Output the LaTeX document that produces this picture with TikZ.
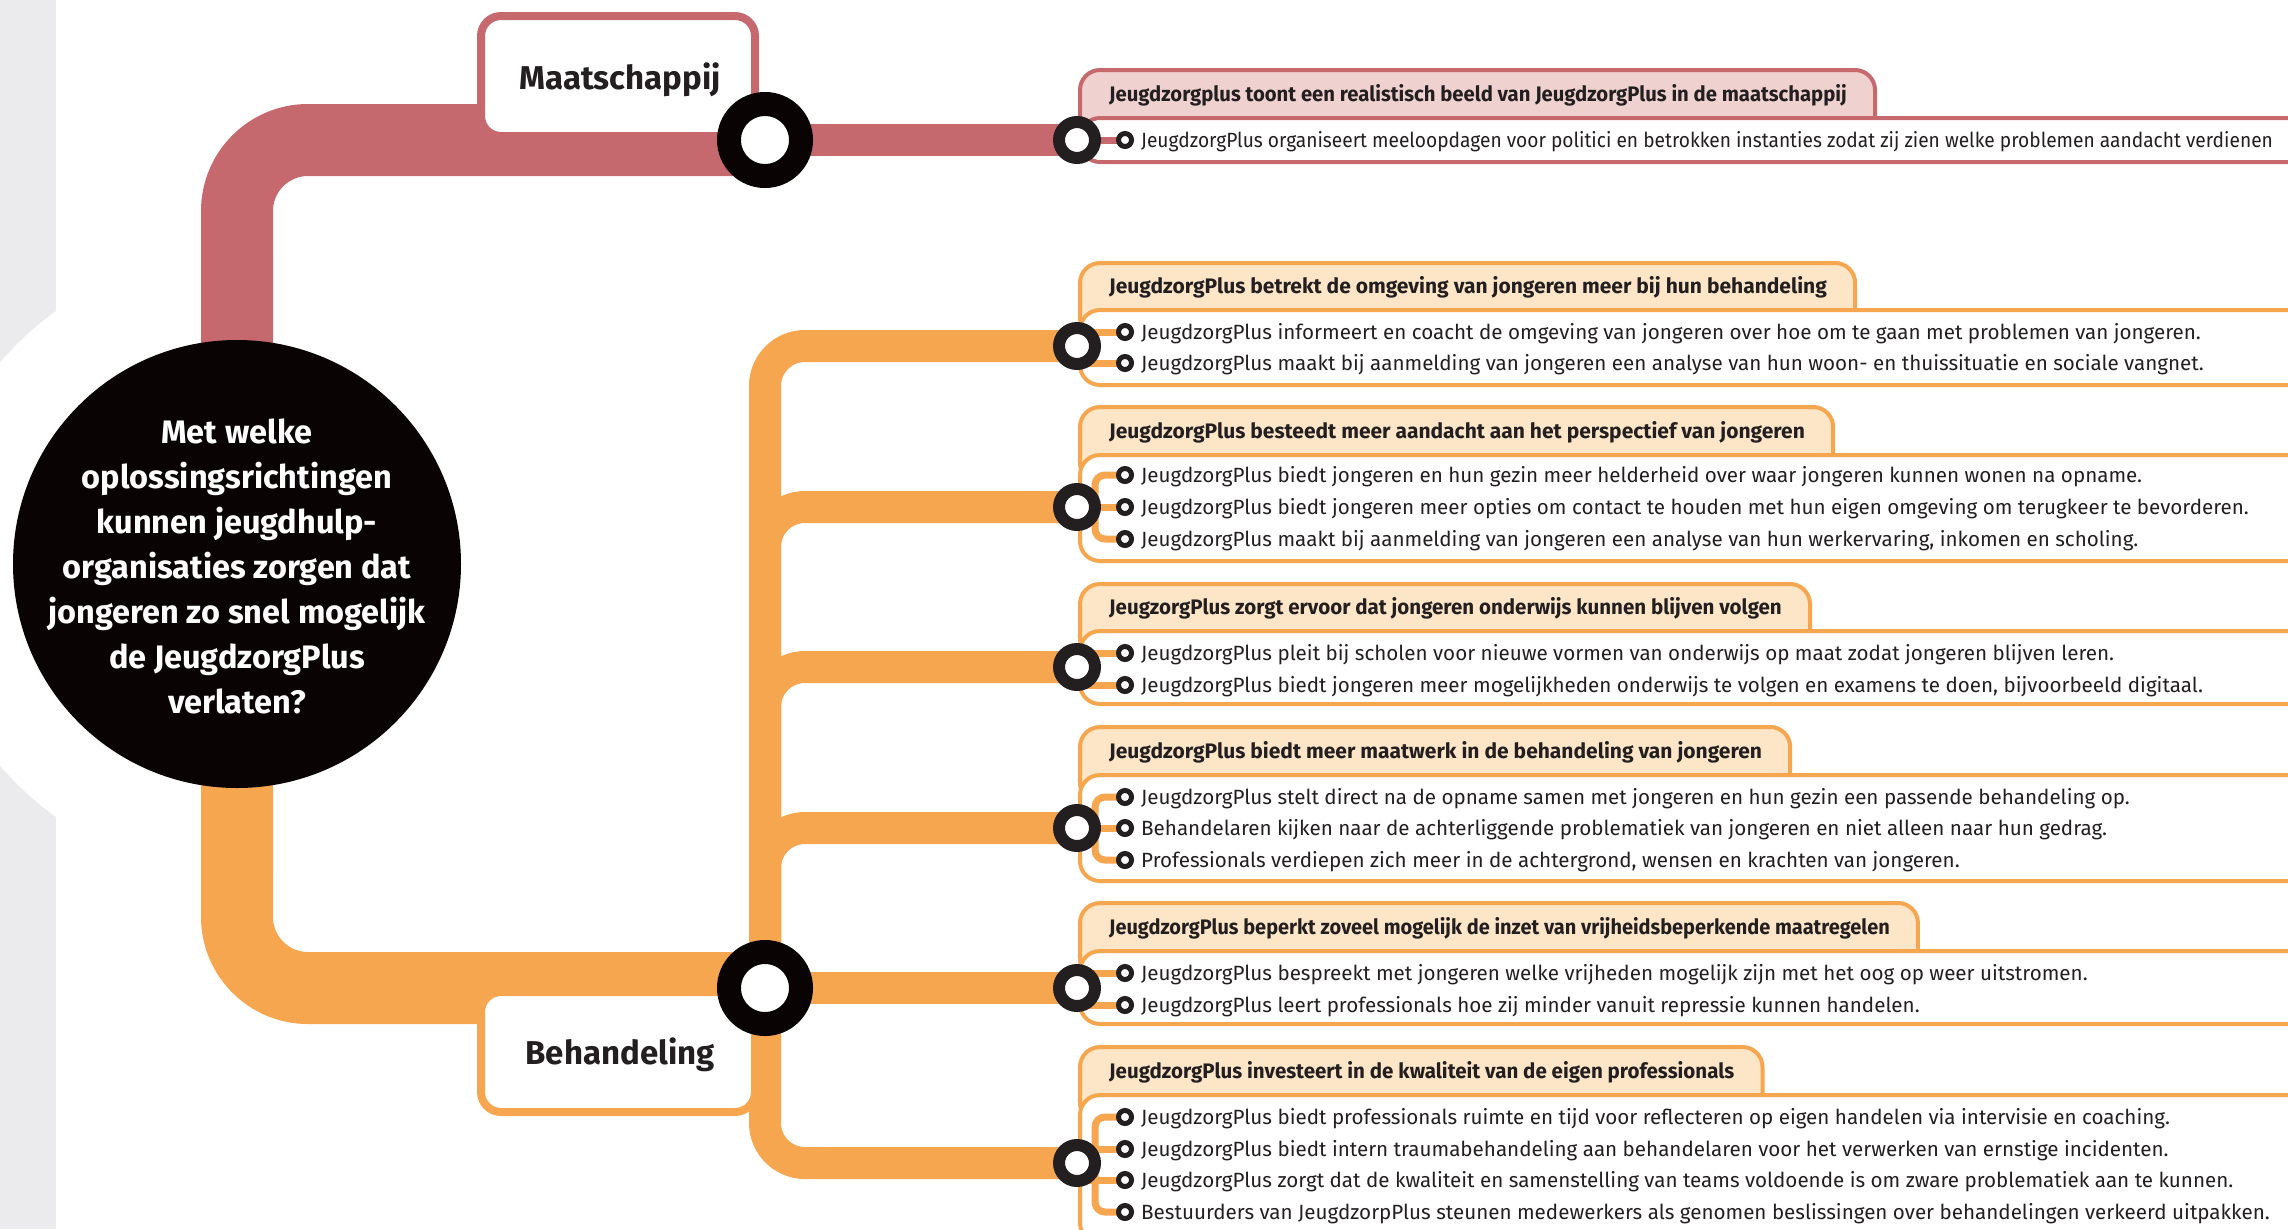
\documentclass[tikz,border=0pt]{standalone}
\usepackage{fontspec}
\setmainfont{Fira Sans}
\newfontfamily\fsnarrowA{Fira Sans}[FakeStretch=0.93]
\newfontfamily\fsnarrowB{Fira Sans}[FakeStretch=0.965]
\newfontfamily\fsnarrowC{Fira Sans}[FakeStretch=0.95]
\newfontfamily\fsnarrowD{Fira Sans}[FakeStretch=0.977]
\usetikzlibrary{calc}
\definecolor{cred}{HTML}{C6696E}
\definecolor{cpink}{HTML}{EFD2CF}
\definecolor{corange}{HTML}{F7A650}
\definecolor{clight}{HTML}{FDE6C8}
\definecolor{cblack}{HTML}{0A0304}
\definecolor{cdark}{HTML}{231F20}
\definecolor{cgrey}{HTML}{EBEBED}
\pgfdeclarelayer{bg}
\pgfsetlayers{bg,main}
\tikzset{
  bodytxt/.style={anchor=base west, inner sep=0pt, text=cdark, font=\fontsize{20.6}{25}\selectfont},
  headtxt/.style={anchor=base west, inner ysep=0pt, inner xsep=28pt, text=cdark, font=\bfseries\fontsize{21}{25}\selectfont},
  boxtitle/.style={anchor=base, inner sep=0pt, text=cdark, font=\bfseries\fontsize{33}{40}\selectfont},
  circtxt/.style={align=center, inner sep=0pt, text=white, font=\bfseries\fontsize{32.5}{45}\selectfont},
  trunk/.style={line width=72pt, rounded corners=71pt},
  branch/.style={line width=32pt, rounded corners=40pt},
  catbox/.style={line width=8pt, fill=white, rounded corners=20pt},
  bigring/.style={draw=cblack, line width=24pt, fill=white},
  smallring/.style={draw=cdark, line width=12pt, fill=white},
  bulletring/.style={draw=cdark, line width=5pt, fill=white},
  tabbox/.style={line width=4pt, rounded corners=20pt},
  contentbox/.style={line width=4pt, fill=white, rounded corners=20pt},
  twig/.style={line width=7pt, rounded corners=10pt},
}
\begin{document}
\begin{tikzpicture}[x=1pt,y=-1pt]
\useasboundingbox (0,0) rectangle (2288,1229);
\clip (0,0) rectangle (2288,1229);
% ---------- key coordinates
\coordinate (hub) at (237,564);
\coordinate (nm) at (765,140);
\coordinate (nb) at (765,988);
\coordinate (r0) at (1077,140);
\coordinate (r1) at (1077,346);
\coordinate (r2) at (1077,507);
\coordinate (r3) at (1077,667);
\coordinate (r4) at (1077,828);
\coordinate (r5) at (1077,988);
\coordinate (r6) at (1077,1163);
% ---------- texts (main layer)
\node[circtxt] (q) at (237,566) {Met welke\\oplossingsrichtingen\\kunnen jeugdhulp-\\organisaties zorgen dat\\jongeren zo snel mogelijk\\de JeugdzorgPlus\\verlaten?};
\node[boxtitle] (mt) at (620,89) {Maatschappij};
\node[boxtitle] (bt) at (620,1064) {Behandeling};

\node[headtxt] (h0) at (1081,101) {\fsnarrowB Jeugdzorgplus toont een realistisch beeld van JeugdzorgPlus in de maatschappij};
\node[bodytxt] (t0a) at (1141,147) {\fsnarrowA JeugdzorgPlus organiseert meeloopdagen voor politici en betrokken instanties zodat zij zien welke problemen aandacht verdienen};

\node[headtxt] (h1) at (1081,293) {JeugdzorgPlus betrekt de omgeving van jongeren meer bij hun behandeling};
\node[bodytxt] (t1a) at (1141,339) {JeugdzorgPlus informeert en coacht de omgeving van jongeren over hoe om te gaan met problemen van jongeren.};
\node[bodytxt] (t1b) at (1141,370) {JeugdzorgPlus maakt bij aanmelding van jongeren een analyse van hun woon- en thuissituatie en sociale vangnet.};

\node[headtxt] (h2) at (1081,438) {JeugdzorgPlus besteedt meer aandacht aan het perspectief van jongeren};
\node[bodytxt] (t2a) at (1141,482) {JeugdzorgPlus biedt jongeren en hun gezin meer helderheid over waar jongeren kunnen wonen na opname.};
\node[bodytxt] (t2b) at (1141,514) {JeugdzorgPlus biedt jongeren meer opties om contact te houden met hun eigen omgeving om terugkeer te bevorderen.};
\node[bodytxt] (t2c) at (1141,546) {JeugdzorgPlus maakt bij aanmelding van jongeren een analyse van hun werkervaring, inkomen en scholing.};

\node[headtxt] (h3) at (1081,614) {\fsnarrowD JeugzorgPlus zorgt ervoor dat jongeren onderwijs kunnen blijven volgen};
\node[bodytxt] (t3a) at (1141,660) {JeugdzorgPlus pleit bij scholen voor nieuwe vormen van onderwijs op maat zodat jongeren blijven leren.};
\node[bodytxt] (t3b) at (1141,692) {JeugdzorgPlus biedt jongeren meer mogelijkheden onderwijs te volgen en examens te doen, bijvoorbeeld digitaal.};

\node[headtxt] (h4) at (1081,758) {JeugdzorgPlus biedt meer maatwerk in de behandeling van jongeren};
\node[bodytxt] (t4a) at (1141,804) {JeugdzorgPlus stelt direct na de opname samen met jongeren en hun gezin een passende behandeling op.};
\node[bodytxt] (t4b) at (1141,835) {Behandelaren kijken naar de achterliggende problematiek van jongeren en niet alleen naar hun gedrag.};
\node[bodytxt] (t4c) at (1141,867) {Professionals verdiepen zich meer in de achtergrond, wensen en krachten van jongeren.};

\node[headtxt] (h5) at (1081,934) {\fsnarrowC JeugdzorgPlus beperkt zoveel mogelijk de inzet van vrijheidsbeperkende maatregelen};
\node[bodytxt] (t5a) at (1141,980) {JeugdzorgPlus bespreekt met jongeren welke vrijheden mogelijk zijn met het oog op weer uitstromen.};
\node[bodytxt] (t5b) at (1141,1012) {JeugdzorgPlus leert professionals hoe zij minder vanuit repressie kunnen handelen.};

\node[headtxt] (h6) at (1081,1078) {\fsnarrowD JeugdzorgPlus investeert in de kwaliteit van de eigen professionals};
\node[bodytxt] (t6a) at (1141,1124) {JeugdzorgPlus biedt professionals ruimte en tijd voor reflecteren op eigen handelen via intervisie en coaching.};
\node[bodytxt] (t6b) at (1141,1156) {JeugdzorgPlus biedt intern traumabehandeling aan behandelaren voor het verwerken van ernstige incidenten.};
\node[bodytxt] (t6c) at (1141,1187) {JeugdzorgPlus zorgt dat de kwaliteit en samenstelling van teams voldoende is om zware problematiek aan te kunnen.};
\node[bodytxt] (t6d) at (1141,1219) {Bestuurders van JeugdzorpPlus steunen medewerkers als genomen beslissingen over behandelingen verkeerd uitpakken.};

% ---------- shapes (background layer)
\begin{pgfonlayer}{bg}
\fill[cgrey] (0,0) rectangle (56,1229);
\fill[white] (hub) circle[radius=311pt];
% trunks
\draw[cred, trunk] (hub) |- (nm);
\draw[cred, line width=32pt] (nm) -- (r0);
\draw[corange, trunk] (hub) |- (nb);
\foreach \r in {r1,r2,r3,r4,r6} \draw[corange, branch] (nb) |- (\r);
\draw[corange, line width=32pt] (nb) -- (r5);
% category boxes
\draw[cred, catbox] (481,16) rectangle (755,136);
\draw[corange, catbox] (481,992) rectangle (755,1112);
% central circle and hubs
\fill[cblack] (hub) circle[radius=224pt];
\draw[bigring] (nm) circle[radius=36pt];
\draw[bigring] (nb) circle[radius=36pt];
% groups: tab + content box
\newcommand\mygroup[6]{%
  \draw[#1, fill=#2, tabbox] let \p1=(#3.east), \p2=(0,#5+30) in (1080,#4+2) rectangle (\x1,\y2);
  \draw[#1, contentbox] (1080,#5+2) rectangle (2330,#6-2);
}
\mygroup{cred}{cpink}{h0}{68}{116}{164}
\mygroup{corange}{clight}{h1}{261}{308}{387}
\mygroup{corange}{clight}{h2}{405}{453}{563}
\mygroup{corange}{clight}{h3}{582}{629}{706}
\mygroup{corange}{clight}{h4}{725}{773}{883}
\mygroup{corange}{clight}{h5}{901}{949}{1026}
\mygroup{corange}{clight}{h6}{1045}{1093}{1245}
% bullet coordinates
\coordinate (b0a) at (1125,140);
\coordinate (b1a) at (1125,332); \coordinate (b1b) at (1125,363);
\coordinate (b2a) at (1125,475); \coordinate (b2b) at (1125,507); \coordinate (b2c) at (1125,539);
\coordinate (b3a) at (1125,653); \coordinate (b3b) at (1125,685);
\coordinate (b4a) at (1125,797); \coordinate (b4b) at (1125,828); \coordinate (b4c) at (1125,860);
\coordinate (b5a) at (1125,973); \coordinate (b5b) at (1125,1005);
\coordinate (b6a) at (1125,1117); \coordinate (b6b) at (1125,1149); \coordinate (b6c) at (1125,1180); \coordinate (b6d) at (1125,1212);
% twigs
\draw[cred, twig] (r0) -- (b0a);
\draw[corange, twig] (r1 |- b1a) -- (b1a);
\draw[corange, twig] (r1 |- b1b) -- (b1b);
\draw[corange, twig] ([xshift=18pt]r2) |- (b2a);
\draw[corange, twig] (r2) -- (b2b);
\draw[corange, twig] ([xshift=18pt]r2) |- (b2c);
\draw[corange, twig] (r3 |- b3a) -- (b3a);
\draw[corange, twig] (r3 |- b3b) -- (b3b);
\draw[corange, twig] ([xshift=18pt]r4) |- (b4a);
\draw[corange, twig] (r4) -- (b4b);
\draw[corange, twig] ([xshift=18pt]r4) |- (b4c);
\draw[corange, twig] (r5 |- b5a) -- (b5a);
\draw[corange, twig] (r5 |- b5b) -- (b5b);
\draw[corange, twig] ([xshift=18pt]r6) |- (b6a);
\draw[corange, twig] (r6 |- b6b) -- (b6b);
\draw[corange, twig] (r6 |- b6c) -- (b6c);
\draw[corange, twig] ([xshift=18pt]r6) |- (b6d);
% rings
\foreach \r in {r0,r1,r2,r3,r4,r5,r6} \draw[smallring] (\r) circle[radius=18pt];
\foreach \b in {b0a,b1a,b1b,b2a,b2b,b2c,b3a,b3b,b4a,b4b,b4c,b5a,b5b,b6a,b6b,b6c,b6d}
  \draw[bulletring] (\b) circle[radius=6.5pt];
\end{pgfonlayer}
\end{tikzpicture}
\end{document}
